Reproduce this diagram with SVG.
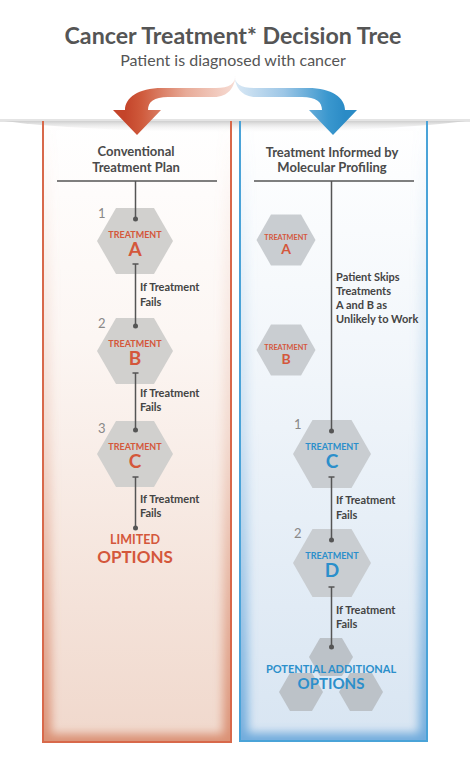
<svg xmlns="http://www.w3.org/2000/svg" width="470" height="772" viewBox="0 0 470 772">
<defs>
<style>
.title{font-family:Lato,"Open Sans","Liberation Sans",sans-serif;font-weight:700;fill:#555;}
.sub{font-family:Lato,"Open Sans","Liberation Sans",sans-serif;font-weight:400;fill:#555;}
.hdr{font-family:Lato,"Open Sans","Liberation Sans",sans-serif;font-weight:700;font-size:13px;fill:#4a4a4a;text-anchor:middle;}
.lbl{font-family:Lato,"Open Sans","Liberation Sans",sans-serif;font-weight:700;font-size:11px;fill:#444;}
.num{font-family:Lato,"Open Sans","Liberation Sans",sans-serif;font-weight:400;font-size:13px;fill:#888;}
.tr{font-family:Lato,"Open Sans","Liberation Sans",sans-serif;font-weight:700;text-anchor:middle;fill:#d4573b;}
.tb{font-family:Lato,"Open Sans","Liberation Sans",sans-serif;font-weight:700;text-anchor:middle;fill:#2b8fcb;}
.hex{fill:#d1d0ce;}
.hexb{fill:#c9cdd1;}
.hexc{fill:#bcc2c8;}
.conn line{stroke:#555;stroke-width:1.5;}
.conn circle{fill:#555;}
</style>
<linearGradient id="gL" x1="0" y1="0" x2="0" y2="1">
<stop offset="0" stop-color="#ffffff"/>
<stop offset="0.35" stop-color="#fcf6f3"/>
<stop offset="1" stop-color="#f0d8cc"/>
</linearGradient>
<linearGradient id="gR" x1="0" y1="0" x2="0" y2="1">
<stop offset="0" stop-color="#ffffff"/>
<stop offset="0.35" stop-color="#f3f7fb"/>
<stop offset="1" stop-color="#d8e5f2"/>
</linearGradient>
<linearGradient id="glL" x1="0" y1="0" x2="0" y2="1">
<stop offset="0" stop-color="#e2a58d" stop-opacity="0"/>
<stop offset="0.5" stop-color="#e2a58d" stop-opacity="0.3"/>
<stop offset="1" stop-color="#d98c6f" stop-opacity="0.95"/>
</linearGradient>
<linearGradient id="glR" x1="0" y1="0" x2="0" y2="1">
<stop offset="0" stop-color="#8fbde3" stop-opacity="0"/>
<stop offset="0.5" stop-color="#8fbde3" stop-opacity="0.35"/>
<stop offset="1" stop-color="#6aa8db" stop-opacity="0.95"/>
</linearGradient>
<linearGradient id="band" x1="0" y1="0" x2="0" y2="1">
<stop offset="0" stop-color="#cdcdcd"/>
<stop offset="1" stop-color="#ffffff" stop-opacity="0"/>
</linearGradient>
<linearGradient id="arR" gradientUnits="userSpaceOnUse" x1="236" y1="0" x2="125" y2="0">
<stop offset="0" stop-color="#f7ddd5"/>
<stop offset="0.45" stop-color="#e8ab98"/>
<stop offset="0.85" stop-color="#cf5a3c"/>
<stop offset="1" stop-color="#c4442a"/>
</linearGradient>
<linearGradient id="arB" gradientUnits="userSpaceOnUse" x1="234" y1="0" x2="345" y2="0">
<stop offset="0" stop-color="#dbe9f5"/>
<stop offset="0.45" stop-color="#9cc6e6"/>
<stop offset="0.85" stop-color="#3a97ce"/>
<stop offset="1" stop-color="#2a8bc6"/>
</linearGradient>
<filter id="blur" x="-0.1" y="-0.1" width="1.2" height="1.2"><feGaussianBlur stdDeviation="5"/></filter>
<clipPath id="cL"><rect x="43" y="121" width="188" height="621"/></clipPath>
<clipPath id="cR"><rect x="240" y="121" width="187" height="620"/></clipPath>
</defs>
<rect width="470" height="772" fill="#ffffff"/>

<g id="title">
<text class="title" x="233" y="44" font-size="23.2" text-anchor="middle">Cancer Treatment* Decision Tree</text>
<text class="sub" x="233" y="66" font-size="16" text-anchor="middle">Patient is diagnosed with cancer</text>
</g>

<g id="panel-left">
<rect x="43" y="121" width="188" height="621" fill="url(#gL)"/>
<g clip-path="url(#cL)"><rect x="43" y="121" width="188" height="621" fill="none" stroke="url(#glL)" stroke-width="16" filter="url(#blur)"/></g>
</g>
<g id="panel-right">
<rect x="240" y="121" width="187" height="620" fill="url(#gR)"/>
<g clip-path="url(#cR)"><rect x="240" y="121" width="187" height="620" fill="none" stroke="url(#glR)" stroke-width="16" filter="url(#blur)"/></g>
</g>
<path d="M4 121 L466 121 Q400 130 235 133 Q70 130 4 121 Z" fill="url(#band)"/>
<rect x="0" y="119" width="470" height="3" fill="#d2d2d2" opacity="0.6"/>
<path d="M43 121 V742 H231 V121" fill="none" stroke="#d8694b" stroke-width="2"/>
<path d="M240 121 V741 H427 V121" fill="none" stroke="#4aa3d8" stroke-width="2"/>

<g id="arrow-red">
<path d="M236 73 C236 84 229 88 216 88 L162 88 C138 88 125 98 125 110 L113 110 L137 135 L161 110 L148 110 C148 102 154 97 168 97 L214 97 C228 97 235 88 236 73 Z" fill="url(#arR)"/>
</g>
<g id="arrow-blue">
<path d="M234 73 C234 84 241 88 254 88 L308 88 C332 88 345 98 345 110 L357 110 L333 135 L309 110 L322 110 C322 102 316 97 302 97 L256 97 C242 97 235 88 234 73 Z" fill="url(#arB)"/>
</g>

<g id="header-left">
<text class="hdr" x="136" y="156">Conventional</text>
<text class="hdr" x="136" y="172">Treatment Plan</text>
<line x1="57" y1="181" x2="217" y2="181" stroke="#555" stroke-width="1.3"/>
</g>
<g id="header-right">
<text class="hdr" x="332" y="157">Treatment Informed by</text>
<text class="hdr" x="332" y="172">Molecular Profiling</text>
<line x1="254" y1="181" x2="414" y2="181" stroke="#555" stroke-width="1.3"/>
</g>

<g id="node-left-a">
<polygon class="hex" points="97,241 116,208 154,208 173,241 154,274 116,274"/>
<text class="num" x="98" y="218">1</text>
<text class="tr" x="135" y="238" font-size="9">TREATMENT</text>
<text class="tr" x="135" y="256" font-size="19">A</text>
</g>
<g id="node-left-b">
<polygon class="hex" points="97,351 116,318 154,318 173,351 154,384 116,384"/>
<text class="num" x="98" y="328">2</text>
<text class="tr" x="135" y="347" font-size="9">TREATMENT</text>
<text class="tr" x="135" y="365" font-size="19">B</text>
</g>
<g id="node-left-c">
<polygon class="hex" points="97,454 116,421 154,421 173,454 154,487 116,487"/>
<text class="num" x="98" y="433">3</text>
<text class="tr" x="135" y="450" font-size="9">TREATMENT</text>
<text class="tr" x="135" y="468" font-size="19">C</text>
</g>
<g id="node-left-limited">
<text class="tr" x="135" y="544" font-size="12.5">LIMITED</text>
<text class="tr" x="135" y="563" font-size="17">OPTIONS</text>
</g>

<g id="node-right-a">
<polygon class="hexb" points="256.5,240 271,214.5 301,214.5 315.5,240 301,265.5 271,265.5"/>
<text class="tr" x="286" y="240" font-size="7.3">TREATMENT</text>
<text class="tr" x="286" y="254" font-size="14">A</text>
</g>
<g id="node-right-b">
<polygon class="hexb" points="256.5,350 271,324.5 301,324.5 315.5,350 301,375.5 271,375.5"/>
<text class="tr" x="286" y="350" font-size="7.3">TREATMENT</text>
<text class="tr" x="286" y="364" font-size="14">B</text>
</g>
<g id="node-right-c">
<polygon class="hexb" points="293,454 312.5,420 351.5,420 371,454 351.5,488 312.5,488"/>
<text class="num" x="294" y="429">1</text>
<text class="tb" x="332" y="450" font-size="9">TREATMENT</text>
<text class="tb" x="332" y="468" font-size="19">C</text>
</g>
<g id="node-right-d">
<polygon class="hexb" points="293,563 312.5,529 351.5,529 371,563 351.5,597 312.5,597"/>
<text class="num" x="294" y="538">2</text>
<text class="tb" x="332" y="559" font-size="9">TREATMENT</text>
<text class="tb" x="332" y="577" font-size="19">D</text>
</g>
<g id="node-right-options">
<polygon class="hexc" points="309,657 320,638 342,638 353,657 342,676 320,676"/>
<polygon class="hexc" points="279,692 290,673 312,673 323,692 312,711 290,711"/>
<polygon class="hexc" points="339,692 350,673 372,673 383,692 372,711 350,711"/>
<text class="tb" x="331" y="673" font-size="11">POTENTIAL ADDITIONAL</text>
<text class="tb" x="331" y="689" font-size="15">OPTIONS</text>
</g>

<g id="connectors" class="conn">
<line x1="135.5" y1="181" x2="135.5" y2="219"/><circle cx="135.5" cy="219" r="2.5"/>
<line x1="135.5" y1="264" x2="135.5" y2="326"/><line x1="132.5" y1="264" x2="138.5" y2="264"/><circle cx="135.5" cy="326" r="2.5"/>
<line x1="135.5" y1="373" x2="135.5" y2="430"/><line x1="132.5" y1="373" x2="138.5" y2="373"/><circle cx="135.5" cy="430" r="2.5"/>
<line x1="135.5" y1="477" x2="135.5" y2="528"/><line x1="132.5" y1="477" x2="138.5" y2="477"/><circle cx="135.5" cy="528" r="2.5"/>
<line x1="331.5" y1="181" x2="331.5" y2="431"/><circle cx="331.5" cy="431" r="2.5"/>
<line x1="331.5" y1="477" x2="331.5" y2="540"/><line x1="328.5" y1="477" x2="334.5" y2="477"/><circle cx="331.5" cy="540" r="2.5"/>
<line x1="331.5" y1="587" x2="331.5" y2="647"/><line x1="328.5" y1="587" x2="334.5" y2="587"/><circle cx="331.5" cy="647" r="2.5"/>
</g>

<g id="labels">
<text class="lbl" x="140" y="291">If Treatment</text>
<text class="lbl" x="140" y="306">Fails</text>
<text class="lbl" x="140" y="397">If Treatment</text>
<text class="lbl" x="140" y="411">Fails</text>
<text class="lbl" x="140" y="503">If Treatment</text>
<text class="lbl" x="140" y="517">Fails</text>
<text class="lbl" x="336" y="281">Patient Skips</text>
<text class="lbl" x="336" y="295">Treatments</text>
<text class="lbl" x="336" y="309">A and B as</text>
<text class="lbl" x="336" y="323">Unlikely to Work</text>
<text class="lbl" x="336" y="504">If Treatment</text>
<text class="lbl" x="336" y="519">Fails</text>
<text class="lbl" x="336" y="614">If Treatment</text>
<text class="lbl" x="336" y="628">Fails</text>
</g>
</svg>
